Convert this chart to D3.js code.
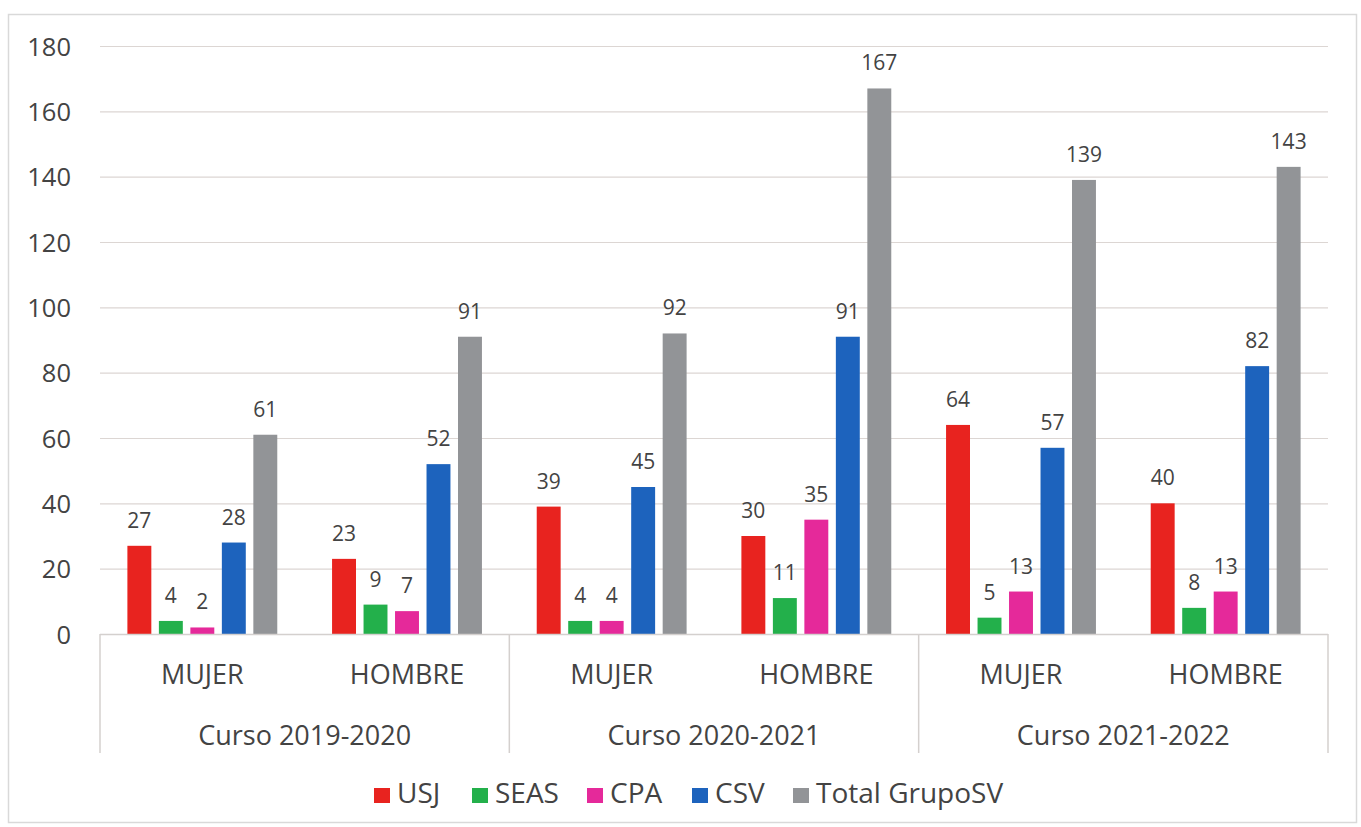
<!DOCTYPE html>
<html>
<head>
<meta charset="utf-8">
<script src="https://cdn.jsdelivr.net/npm/d3@7"></script>
<style>
  html, body { margin: 0; padding: 0; background: #ffffff; }
  svg { display: block; font-family: "Open Sans", Lato, sans-serif; }
</style>
</head>
<body>
<svg id="chart" width="1361" height="827"></svg>
<script>
// Academic years and gender groups
const courses = ["Curso 2019-2020", "Curso 2020-2021", "Curso 2021-2022"];
const genders = ["MUJER", "HOMBRE"];
const seriesNames = ["USJ", "SEAS", "CPA", "CSV", "Total GrupoSV"];
const seriesColors = ["#e8231f", "#23b04b", "#e5299a", "#1d63bd", "#929497"];

// Values per series, ordered course by course: MUJER, HOMBRE
const usj   = [27, 23, 39, 30, 64, 40];
const seas  = [4, 9, 4, 11, 5, 8];
const cpa   = [2, 7, 4, 35, 13, 13];
const csv   = [28, 52, 45, 91, 57, 82];
const total = [61, 91, 92, 167, 139, 143];
const yTicks = [0, 20, 40, 60, 80, 100, 120, 140, 160, 180];

const seriesValues = [usj, seas, cpa, csv, total];

const groups = [];
courses.forEach((c, ci) => genders.forEach((g, gi) => {
  const idx = ci * 2 + gi;
  groups.push({
    key: c + "|" + g, course: c, gender: g,
    values: seriesNames.map((s, si) => ({ series: s, value: seriesValues[si][idx], color: seriesColors[si] }))
  });
}));

const svg = d3.select("#chart");
const plotLeft = 100, plotRight = 1328, plotTop = 46, plotBottom = 634, axisBottom = 753;
const textColor = "#434343";

// Outer frame
svg.append("rect").attr("x", 8.5).attr("y", 14.5).attr("width", 1348).attr("height", 808)
  .attr("fill", "none").attr("stroke", "#d9d9d9").attr("stroke-width", 1.5);

const y = d3.scaleLinear().domain([0, 180]).range([plotBottom, plotTop]);
const x0 = d3.scaleBand().domain(groups.map(d => d.key)).range([plotLeft, plotRight]).paddingInner(0).paddingOuter(0);
const xc = d3.scaleBand().domain(courses).range([plotLeft, plotRight]);
const x1 = d3.scaleBand().domain(seriesNames).range([0, x0.bandwidth()]).paddingInner(0.24).paddingOuter(0.87);

// Gridlines
svg.append("g").selectAll("line").data(yTicks.filter(t => t > 0)).join("line")
  .attr("x1", plotLeft).attr("x2", plotRight)
  .attr("y1", d => y(d) + 0.5).attr("y2", d => y(d) + 0.5)
  .attr("stroke", "#dcd6d3").attr("stroke-width", 1.2);

// Y axis labels
const yAxis = d3.axisLeft(y).tickValues(yTicks).tickSize(0).tickPadding(0);
const yg = svg.append("g").attr("transform", `translate(${plotLeft - 29},0)`).call(yAxis);
yg.select(".domain").remove();
yg.selectAll("text").attr("font-size", 25.5).attr("fill", textColor)
  .attr("font-family", "'Open Sans', sans-serif").attr("dy", "0.36em");

// Bars
const gg = svg.append("g").selectAll("g").data(groups).join("g")
  .attr("transform", d => `translate(${x0(d.key)},0)`);
gg.selectAll("rect").data(d => d.values).join("rect")
  .attr("x", d => x1(d.series)).attr("width", x1.bandwidth())
  .attr("y", d => y(d.value)).attr("height", d => y(0) - y(d.value))
  .attr("fill", d => d.color);
gg.selectAll("text").data(d => d.values).join("text")
  .attr("x", d => x1(d.series) + x1.bandwidth() / 2)
  .attr("y", d => y(d.value) - 18)
  .attr("text-anchor", "middle").attr("font-size", 21).attr("fill", textColor)
  .text(d => d.value);

// Category axis: baseline and course separators
const axisStroke = "#d4d0ce";
svg.append("line").attr("x1", plotLeft).attr("x2", plotRight).attr("y1", plotBottom + 0.5).attr("y2", plotBottom + 0.5)
  .attr("stroke", axisStroke).attr("stroke-width", 1.5);
const seps = courses.map(c => xc(c)).concat([plotRight]);
svg.append("g").selectAll("line").data(seps).join("line")
  .attr("x1", d => d).attr("x2", d => d).attr("y1", plotBottom).attr("y2", axisBottom)
  .attr("stroke", axisStroke).attr("stroke-width", 1.5);

// Gender labels
svg.append("g").selectAll("text").data(groups).join("text")
  .attr("x", d => x0(d.key) + x0.bandwidth() / 2).attr("y", 684)
  .attr("text-anchor", "middle").attr("font-size", 27).attr("fill", textColor)
  .text(d => d.gender);

// Course labels
svg.append("g").selectAll("text").data(courses).join("text")
  .attr("x", d => xc(d) + xc.bandwidth() / 2).attr("y", 745)
  .attr("text-anchor", "middle").attr("font-size", 27).attr("fill", textColor)
  .text(d => d);

// Legend
const legendX = [374, 472, 587, 692, 793];
const lg = svg.append("g").selectAll("g").data(seriesNames).join("g")
  .attr("transform", (d, i) => `translate(${legendX[i]},788)`);
lg.append("rect").attr("width", 16).attr("height", 15).attr("fill", (d, i) => seriesColors[i]);
lg.append("text").attr("x", 23).attr("y", 15).attr("font-size", 28).attr("fill", textColor).text(d => d);
</script>
</body>
</html>
